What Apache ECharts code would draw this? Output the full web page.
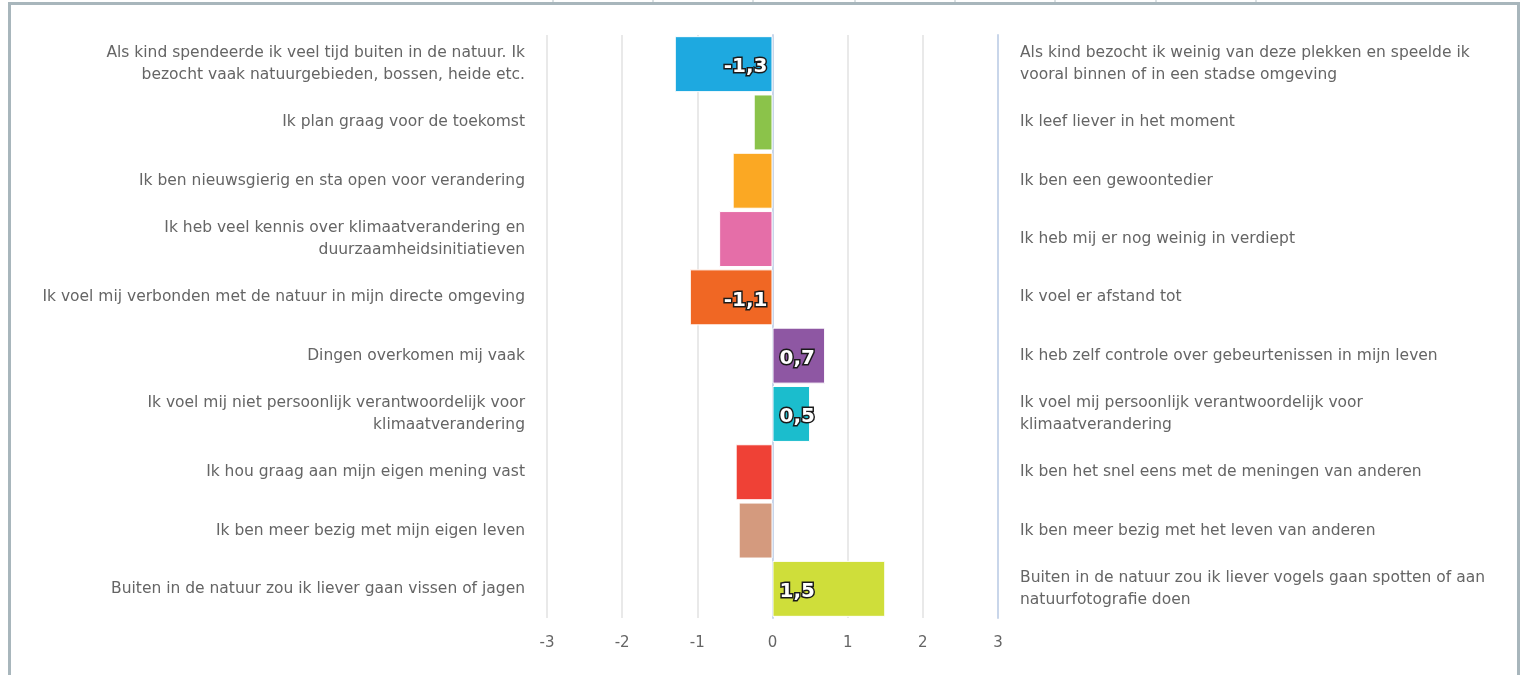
<!DOCTYPE html>
<html>
<head>
<meta charset="utf-8">
<script src="https://cdn.jsdelivr.net/npm/echarts@6/dist/echarts.min.js"></script>
<style>
  html, body { margin: 0; padding: 0; background: #ffffff; }
  #chart { width: 1522px; height: 675px; }
</style>
</head>
<body>
<div id="chart"></div>
<script>
// Statements on the left (negative side) and their opposites on the right (positive side)
const leftStatements = [
  'Als kind spendeerde ik veel tijd buiten in de natuur. Ik\nbezocht vaak natuurgebieden, bossen, heide etc.',
  'Ik plan graag voor de toekomst',
  'Ik ben nieuwsgierig en sta open voor verandering',
  'Ik heb veel kennis over klimaatverandering en\nduurzaamheidsinitiatieven',
  'Ik voel mij verbonden met de natuur in mijn directe omgeving',
  'Dingen overkomen mij vaak',
  'Ik voel mij niet persoonlijk verantwoordelijk voor\nklimaatverandering',
  'Ik hou graag aan mijn eigen mening vast',
  'Ik ben meer bezig met mijn eigen leven',
  'Buiten in de natuur zou ik liever gaan vissen of jagen'
];
const rightStatements = [
  'Als kind bezocht ik weinig van deze plekken en speelde ik\nvooral binnen of in een stadse omgeving',
  'Ik leef liever in het moment',
  'Ik ben een gewoontedier',
  'Ik heb mij er nog weinig in verdiept',
  'Ik voel er afstand tot',
  'Ik heb zelf controle over gebeurtenissen in mijn leven',
  'Ik voel mij persoonlijk verantwoordelijk voor\nklimaatverandering',
  'Ik ben het snel eens met de meningen van anderen',
  'Ik ben meer bezig met het leven van anderen',
  'Buiten in de natuur zou ik liever vogels gaan spotten of aan\nnatuurfotografie doen'
];
// Average position on the scale per statement pair
const scores = [-1.3, -0.25, -0.53, -0.71, -1.1, 0.7, 0.5, -0.49, -0.45, 1.5];
const labelShown = [true, false, false, false, true, true, true, false, false, true];
const barColors = ['#1EA9E0', '#8BC34A', '#FBA823', '#E56EA8', '#F06724',
                   '#8E57A3', '#1BBDCD', '#EF4136', '#D49A7E', '#CFDE3A'];
const scaleTicks = [-3, -2, -1, 0, 1, 2, 3];

const chart = echarts.init(document.getElementById('chart'), null, { renderer: 'canvas' });

const textColor = '#656565';
const fontFamily = '"DejaVu Sans", Verdana, sans-serif';

const barData = scores.map((v, i) => ({
  value: v,
  itemStyle: { color: barColors[i] },
  label: {
    show: labelShown[i],
    position: v < 0 ? 'insideRight' : 'insideLeft',
    distance: v < 0 ? 5 : 7
  }
}));

// frame decoration around the chart area
const topTicks = [553, 653, 753, 855, 955, 1055, 1156, 1256];
const graphics = [
  {
    type: 'rect',
    shape: { x: 9.5, y: 3.5, width: 1509, height: 700 },
    style: { fill: 'none', stroke: '#a8b6bc', lineWidth: 3 },
    silent: true
  }
].concat(topTicks.map(x => ({
  type: 'line',
  shape: { x1: x, y1: 0, x2: x, y2: 2 },
  style: { stroke: '#b7c3c8', lineWidth: 1 },
  silent: true
})));

chart.setOption({
  backgroundColor: '#ffffff',
  animation: false,
  textStyle: { fontFamily: fontFamily },
  graphic: graphics,
  grid: { left: 547, right: 524, top: 35, bottom: 57, containLabel: false },
  xAxis: {
    type: 'value',
    min: scaleTicks[0],
    max: scaleTicks[scaleTicks.length - 1],
    interval: 1,
    axisLine: { show: false },
    axisTick: { show: false },
    axisLabel: {
      color: textColor, fontSize: 15, fontFamily: fontFamily, margin: 18,
      formatter: v => String(v)
    },
    splitLine: { show: true, lineStyle: { color: '#e2e2e2', width: 1.5 } }
  },
  yAxis: [
    {
      type: 'category',
      data: leftStatements,
      inverse: true,
      position: 'left',
      axisLine: { show: true, lineStyle: { color: '#c9d6ea', width: 2 } },
      axisTick: { show: false },
      axisLabel: {
        color: textColor, fontSize: 15.5, fontFamily: fontFamily,
        margin: 22, align: 'right', lineHeight: 22,
        padding: [6, 0, 0, 0]
      }
    },
    {
      type: 'category',
      data: rightStatements,
      inverse: true,
      position: 'right',
      axisLine: { show: true, lineStyle: { color: '#c9d6ea', width: 2 } },
      axisTick: { show: false },
      axisLabel: {
        color: textColor, fontSize: 15.5, fontFamily: fontFamily,
        margin: 22, align: 'left', lineHeight: 22,
        padding: [6, 0, 0, 0]
      }
    }
  ],
  series: [
    {
      type: 'bar',
      yAxisIndex: 0,
      data: barData,
      barCategoryGap: '4%',
      itemStyle: { borderColor: '#ffffff', borderWidth: 1 },
      label: {
        color: '#ffffff',
        fontSize: 20,
        fontWeight: 'bold',
        fontFamily: fontFamily,
        textBorderColor: '#1a1a1a',
        textBorderWidth: 3,
        offset: [0, 3],
        formatter: p => String(p.value).replace('.', ',')
      }
    }
  ]
});
</script>
</body>
</html>
